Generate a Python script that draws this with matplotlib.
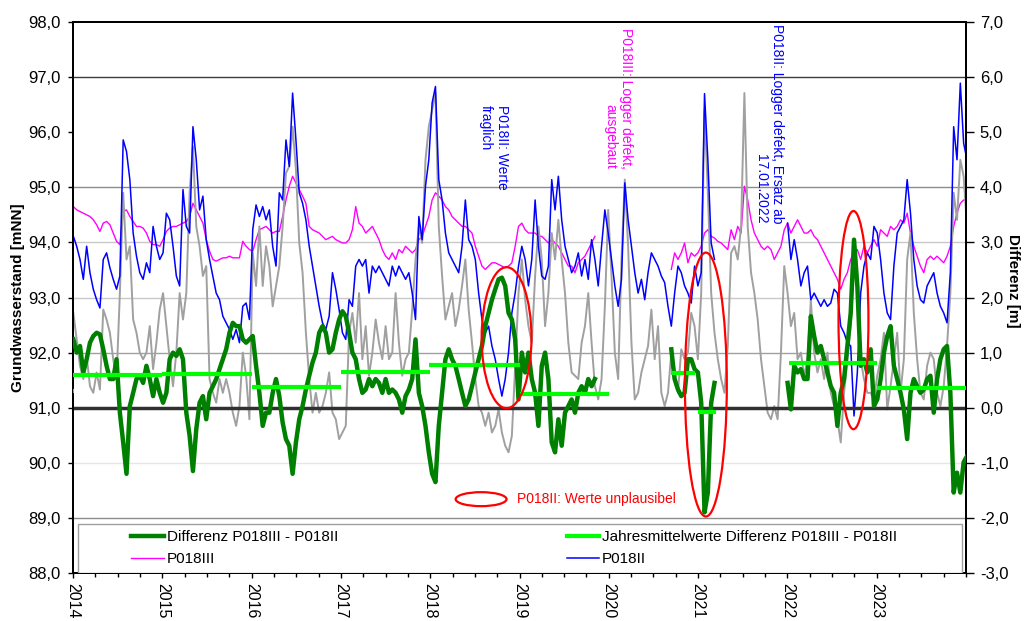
import matplotlib
matplotlib.use("Agg")
import matplotlib.pyplot as plt
from matplotlib.patches import Ellipse, Rectangle
from matplotlib.lines import Line2D
from matplotlib.ticker import FuncFormatter, MultipleLocator
import numpy as np

nan = np.nan

# one reading about every 13.6 days, from Jan 2014 to end of 2023 (decimal years)
t = 2014.004 + 0.0372 * np.arange(270)

# P018III [mNN]
p018iii = [
    94.65, 94.59, 94.56, 94.53, 94.50, 94.47, 94.41, 94.32, 94.20, 94.35,
    94.38, 94.32, 94.17, 94.02, 93.96, 94.56, 94.59, 94.47, 94.38, 94.29,
    94.29, 94.26, 94.17, 94.02, 93.96, 93.96, 93.93, 94.05, 94.20, 94.26,
    94.29, 94.29, 94.32, 94.35, 94.38, 94.47, 94.71, 94.59, 94.47, 94.35,
    94.05, 93.84, 93.69, 93.66, 93.69, 93.72, 93.72, 93.75, 93.72, 93.72,
    93.72, 94.02, 93.93, 93.87, 93.84, 94.05, 94.23, 94.26, 94.29, 94.23,
    94.17, 94.20, 94.20, 94.47, 94.77, 95.02, 95.20, 95.08, 94.96, 94.84,
    94.71, 94.29, 94.23, 94.20, 94.17, 94.11, 94.05, 94.08, 94.11, 94.05,
    94.02, 93.99, 93.99, 94.05, 94.23, 94.65, 94.35, 94.29, 94.17, 94.23,
    94.29, 94.17, 94.05, 93.87, 93.75, 93.69, 93.81, 93.69, 93.87, 93.81,
    93.93, 93.87, 93.81, 93.87, 94.05, 94.11, 94.29, 94.47, 94.77, 94.90,
    94.84, 94.77, 94.65, 94.59, 94.47, 94.41, 94.35, 94.29, 94.29, 94.23,
    94.17, 93.93, 93.75, 93.57, 93.51, 93.57, 93.63, 93.63, 93.60, 93.57,
    93.54, 93.57, 93.63, 93.93, 94.29, 94.35, 94.23, 94.17, 94.17, 94.17,
    94.11, 94.11, 94.05, 93.99, 94.05, 93.99, 93.93, 93.81, 93.69, 93.57,
    93.57, 93.45, 93.63, 93.69, 93.75, 93.87, 93.99, 94.11, nan, nan,
    nan, nan, nan, nan, nan, nan, nan, nan, nan, nan,
    nan, nan, nan, nan, nan, nan, nan, nan, nan, nan,
    93.51, 93.81, 93.69, 93.81, 93.99, 93.63, 93.81, 93.75, 93.81, 93.93,
    94.17, 94.23, 94.11, 94.08, 94.02, 93.99, 93.93, 93.87, 94.23, 94.05,
    94.29, 94.17, 95.02, 94.77, 94.41, 94.17, 94.05, 93.93, 93.87, 93.93,
    93.87, 93.69, 93.81, 93.93, 94.23, 94.35, 94.17, 94.29, 94.41, 94.29,
    94.17, 94.17, 94.23, 94.11, 94.05, 93.93, 93.81, 93.69, 93.57, 93.45,
    93.33, 93.15, 93.33, 93.45, 93.69, 93.81, 93.87, 93.69, 93.93, 93.81,
    93.93, 94.05, 93.93, 94.23, 94.17, 94.11, 94.29, 94.23, 94.29, 94.41,
    94.35, 94.53, 94.17, 93.93, 93.75, 93.57, 93.45, 93.69, 93.75, 93.69,
    93.75, 93.69, 93.63, 93.75, 93.93, 94.29, 94.53, 94.71, 94.77, 94.77,
]

# P018II [mNN]
p018ii = [
    94.11, 93.93, 93.69, 93.33, 93.93, 93.45, 93.15, 92.96, 92.81, 93.69,
    93.81, 93.54, 93.33, 93.15, 93.39, 95.86, 95.65, 95.14, 94.17, 93.75,
    93.45, 93.33, 93.63, 93.45, 94.29, 93.93, 93.69, 93.81, 94.53, 94.41,
    93.93, 93.39, 93.21, 94.96, 94.29, 94.17, 96.10, 95.50, 94.59, 94.84,
    94.05, 93.69, 93.39, 93.08, 92.96, 92.66, 92.54, 92.42, 92.24, 92.42,
    92.18, 92.84, 92.90, 92.60, 94.23, 94.68, 94.47, 94.65, 94.41, 94.59,
    93.93, 93.57, 94.90, 94.77, 95.86, 95.38, 96.71, 95.86, 94.90, 94.71,
    94.41, 93.93, 93.57, 93.21, 92.84, 92.54, 92.42, 92.66, 93.45, 93.15,
    92.78, 92.36, 92.24, 92.96, 92.84, 93.57, 93.69, 93.57, 93.69, 93.08,
    93.57, 93.45, 93.57, 93.45, 93.33, 93.21, 93.57, 93.39, 93.57, 93.45,
    93.33, 93.45, 93.08, 92.60, 94.47, 94.05, 95.02, 95.50, 96.53, 96.83,
    95.14, 94.77, 94.17, 93.81, 93.69, 93.57, 93.45, 93.93, 94.77, 94.05,
    93.93, 93.69, 93.08, 92.60, 92.36, 92.48, 92.12, 91.88, 91.52, 91.21,
    91.52, 92.00, 92.72, 93.08, 93.57, 93.93, 93.69, 93.21, 93.69, 94.77,
    93.93, 93.39, 93.33, 93.57, 95.14, 94.59, 95.20, 94.41, 93.93, 93.69,
    93.45, 93.57, 93.81, 93.39, 93.69, 93.33, 94.05, 93.69, 93.21, 93.93,
    94.59, 94.17, 93.69, 93.21, 92.84, 93.33, 95.08, 94.41, 93.93, 93.45,
    93.08, 93.33, 92.96, 93.45, 93.81, 93.69, 93.57, 93.39, 93.27, 92.84,
    92.48, 93.08, 93.57, 93.45, 93.21, 93.08, 92.90, 93.57, 93.21, 93.45,
    96.70, 95.50, 93.99, 93.69, nan, nan, nan, nan, nan, nan,
    nan, nan, nan, nan, nan, nan, nan, nan, nan, nan,
    nan, nan, nan, nan, nan, 94.35, 93.69, 94.05, 93.69, 93.21,
    93.45, 93.57, 92.96, 93.08, 92.96, 92.84, 92.96, 92.84, 92.90, 93.15,
    93.08, 92.48, 92.36, 92.18, 92.12, 90.85, 91.64, 93.08, 93.57, 93.81,
    93.69, 94.29, 94.17, 93.69, 93.08, 92.72, 92.60, 93.57, 94.17, 94.29,
    94.41, 95.14, 94.53, 93.69, 93.21, 92.96, 92.90, 93.21, 93.33, 93.45,
    93.08, 92.84, 92.72, 92.54, 93.45, 96.10, 95.50, 96.89, 95.80, 95.50,
]

# grey series (no legend entry) [mNN]
grau = [
    92.72, 92.24, 91.76, 91.52, 91.94, 91.39, 91.27, 91.64, 91.33, 92.78,
    92.60, 92.36, 91.88, 91.52, 93.08, 94.90, 93.69, 93.93, 92.60, 92.36,
    92.00, 91.88, 92.00, 92.48, 91.70, 92.18, 92.78, 93.08, 92.48, 91.88,
    91.39, 92.00, 93.08, 92.60, 93.08, 94.90, 95.74, 94.29, 93.93, 93.39,
    93.57, 91.52, 91.27, 91.09, 91.52, 91.27, 91.52, 91.27, 90.91, 90.67,
    91.03, 92.00, 91.58, 90.79, 93.81, 93.21, 94.29, 93.21, 93.93, 93.57,
    92.84, 93.21, 93.57, 94.29, 95.26, 95.38, 96.10, 95.32, 93.99, 93.45,
    92.36, 91.52, 90.91, 91.27, 90.91, 91.03, 91.27, 91.64, 90.91, 90.79,
    90.43, 90.55, 90.67, 92.36, 92.72, 92.18, 93.08, 91.88, 92.48, 91.58,
    92.00, 92.60, 92.18, 91.88, 92.48, 91.88, 92.00, 93.08, 92.18, 91.58,
    91.88, 92.00, 92.78, 93.69, 94.29, 93.99, 95.50, 96.10, 96.41, 96.71,
    94.29, 93.39, 92.60, 92.84, 93.08, 92.48, 92.78, 93.21, 93.69, 92.78,
    92.18, 91.52, 91.03, 90.91, 90.67, 90.91, 90.55, 90.67, 90.97, 90.55,
    90.31, 90.19, 90.49, 91.76, 93.08, 93.69, 92.96, 92.48, 92.18, 93.39,
    94.29, 93.69, 92.48, 93.08, 94.17, 93.69, 94.41, 93.69, 93.08, 92.18,
    91.64, 91.58, 91.52, 92.18, 92.48, 93.08, 92.18, 91.39, 91.15, 91.52,
    92.84, 94.59, 93.39, 92.00, 91.52, 93.69, 95.14, 93.93, 92.18, 91.15,
    91.27, 91.64, 91.88, 92.12, 92.78, 91.88, 92.48, 91.27, 91.03, 91.27,
    92.00, 91.52, 91.27, 92.06, 91.88, 92.00, 92.72, 92.48, 91.88, 93.08,
    96.41, 94.90, 93.08, 92.36, 91.88, 91.52, 91.27, 92.12, 93.81, 93.93,
    93.69, 94.29, 96.71, 94.29, 93.45, 93.08, 92.60, 91.88, 91.39, 90.91,
    90.79, 91.03, 90.79, 92.00, 93.57, 93.08, 92.48, 92.72, 91.88, 92.00,
    91.58, 91.88, 92.96, 92.00, 91.64, 91.88, 91.52, 92.00, 91.27, 91.03,
    90.79, 90.37, 91.27, 91.88, 92.48, 93.81, 93.08, 91.88, 91.52, 91.27,
    91.27, 91.15, 91.58, 91.88, 92.36, 90.97, 91.39, 91.88, 92.36, 91.27,
    91.88, 93.69, 94.17, 92.72, 91.88, 91.27, 91.15, 91.76, 92.00, 91.88,
    91.27, 91.03, 91.39, 92.12, 93.08, 94.90, 94.41, 95.50, 95.20, 94.29,
]

# Differenz P018III - P018II [m]
differenz = [
    1.24, 1.00, 1.12, 0.64, 0.88, 1.18, 1.30, 1.36, 1.33, 1.06,
    0.76, 0.52, 0.52, 0.88, -0.09, -0.63, -1.20, 0.03, 0.27, 0.52,
    0.58, 0.45, 0.76, 0.52, 0.21, 0.52, 0.27, 0.09, 0.27, 0.88,
    1.00, 0.94, 1.06, 0.88, -0.09, -0.51, -1.15, -0.39, 0.09, 0.21,
    -0.21, 0.27, 0.39, 0.52, 0.70, 0.88, 1.06, 1.36, 1.54, 1.48,
    1.48, 1.24, 1.18, 1.24, 1.30, 0.76, 0.27, -0.33, -0.09, -0.09,
    0.27, 0.52, 0.21, -0.27, -0.57, -0.69, -1.20, -0.63, -0.21, 0.03,
    0.33, 0.58, 0.82, 1.00, 1.36, 1.48, 1.36, 1.00, 1.06, 1.36,
    1.60, 1.75, 1.66, 1.36, 1.00, 0.88, 0.52, 0.27, 0.33, 0.52,
    0.39, 0.52, 0.45, 0.27, 0.52, 0.27, 0.33, 0.27, 0.15, -0.09,
    0.21, 0.33, 0.52, 1.24, 0.27, 0.03, -0.33, -0.81, -1.20, -1.35,
    -0.33, 0.27, 0.88, 1.06, 0.88, 0.76, 0.52, 0.27, 0.03, 0.15,
    0.39, 0.64, 0.88, 1.12, 1.48, 1.72, 1.96, 2.15, 2.33, 2.36,
    2.21, 1.72, 1.60, 1.24, 0.15, 1.00, 0.64, 1.00, 0.52, 0.27,
    -0.33, 0.76, 1.00, 0.52, -0.63, -0.81, -0.21, -0.69, -0.09, 0.03,
    0.15, -0.09, 0.27, 0.39, 0.27, 0.52, 0.39, 0.52, nan, nan,
    nan, nan, nan, nan, nan, nan, nan, nan, nan, nan,
    nan, nan, nan, nan, nan, nan, nan, nan, nan, nan,
    1.06, 0.52, 0.33, 0.21, 0.27, 0.88, 0.88, 0.70, 0.64, 0.09,
    -1.90, -1.54, 0.09, 0.45, nan, nan, nan, nan, nan, nan,
    nan, nan, nan, nan, nan, nan, nan, nan, nan, nan,
    nan, nan, nan, nan, nan, 0.45, -0.03, 0.76, 0.64, 0.70,
    0.52, 0.52, 1.66, 1.30, 1.00, 1.12, 0.88, 0.64, 0.39, 0.27,
    -0.33, 0.27, 0.52, 1.12, 1.72, 3.05, 2.21, 0.76, 0.88, 0.64,
    1.06, 0.03, 0.15, 0.52, 1.00, 1.30, 1.48, 0.76, 0.52, 0.27,
    -0.03, -0.57, 0.27, 0.52, 0.39, 0.27, 0.33, 0.52, 0.58, -0.09,
    0.52, 0.88, 1.06, 1.12, 0.27, -1.54, -1.18, -1.54, -0.99, -0.88,
]

# Jahresmittelwerte Differenz [m]
jm_von = [2013.9, 2014.0, 2015.0, 2016.0, 2017.0, 2017.99, 2019.0, 2020.7, 2021.0, 2022.02, 2023.0]
jm_bis = [2014.01, 2015.0, 2016.0, 2017.0, 2018.0, 2019.0, 2020.0, 2020.96, 2021.2, 2023.0, 2024.0]
jm_wert = [0.30, 0.60, 0.62, 0.38, 0.65, 0.77, 0.24, 0.63, -0.07, 0.82, 0.35]

years = list(range(2014, 2024))

plt.rcParams['font.family'] = ['Liberation Sans', 'DejaVu Sans']
plt.rcParams['font.size'] = 11


def comma(v, pos):
    return f"{v:.1f}".replace('.', ',')


fig = plt.figure(figsize=(10.31, 6.21), dpi=100)
ax = fig.add_axes([73 / 1031, 48 / 621, 893 / 1031, 551 / 621])

grid = [(97, '#3c3c3c'), (95, '#8c8c8c'), (94, '#c8c8c8'), (93, '#c8c8c8'),
        (92, '#a0a0a0'), (90, '#e6e6e6'), (89, '#8c8c8c')]
for lvl, col in grid:
    ax.axhline(lvl, color=col, lw=1, zorder=0)

ax.plot(t, p018iii, color='#ff00ff', lw=1.0, zorder=2)
ax.plot(t, grau, color='#a0a0a0', lw=1.4, zorder=3)
ax.plot(t, p018ii, color='#0000ff', lw=1.1, zorder=4)

ax.set_xlim(2014, 2024)
ax.set_ylim(88, 98)
ax.set_yticks(range(88, 99))
ax.yaxis.set_major_formatter(FuncFormatter(comma))
ax.set_xticks(years)
ax.set_xticklabels([str(y) for y in years], rotation=270)
ax.xaxis.set_minor_locator(MultipleLocator(0.25))
ax.tick_params(axis='y', which='major', direction='out', length=3.6, width=1, pad=5.5,
               labelsize=12)
ax.tick_params(axis='x', which='major', direction='out', length=3.5, width=1, pad=4,
               labelsize=11.5)
ax.tick_params(axis='x', which='minor', direction='out', length=3, width=1)
ax.set_ylabel('Grundwasserstand [mNN]', fontweight='bold', va='center')
ax.yaxis.set_label_coords(-0.0616, 0.5)

ax2 = ax.twinx()
ax2.set_ylim(-3, 7)
ax2.set_yticks(range(-3, 8))
ax2.yaxis.set_major_formatter(FuncFormatter(comma))
ax2.tick_params(axis='y', direction='out', length=5.5, width=1, pad=4.5, labelsize=12)
ax2.set_ylabel('Differenz [m]', fontweight='bold', rotation=270, va='center')
ax2.yaxis.set_label_coords(1.0526, 0.53)

ax2.axhline(0, color='#303030', lw=2.5, zorder=1)
ax2.plot(t, differenz, color='#008000', lw=3.2, zorder=3)
ax2.hlines(jm_wert, jm_von, jm_bis, color='#00ff00', lw=3, zorder=4)

for a in (ax, ax2):
    for s in a.spines.values():
        s.set_color('black')
        s.set_linewidth(1.4)

# red ellipses
for (cx, cy, w, h) in [(2018.855, 1.27, 0.558, 2.56), (2021.087, 0.42, 0.469, 4.79),
                       (2022.74, 1.59, 0.335, 3.96)]:
    ax2.add_patch(Ellipse((cx, cy), w, h, fill=False, edgecolor='red', lw=1.6, zorder=6))
ax2.add_patch(Ellipse((2018.57, -1.66), 0.57, 0.254, fill=False, edgecolor='red', lw=1.6, zorder=6))
ax2.text(2018.967, -1.66, 'P018II: Werte unplausibel', color='red', fontsize=10,
         ha='left', va='center', zorder=6)

ax2.text(2018.71, 5.5, 'P018II: Werte\nfraglich', color='#0000ff', fontsize=10,
         rotation=270, ha='center', va='top', multialignment='left', zorder=6)
ax2.text(2020.105, 6.89, 'P018III: Logger defekt,\nausgebaut', color='#ff00ff', fontsize=10,
         rotation=270, ha='center', va='top', multialignment='right', zorder=6)
ax2.text(2021.79, 6.96, 'P018II: Logger defekt, Ersatz ab\n17.01.2022', color='#0000ff',
         fontsize=10, rotation=270, ha='center', va='top', multialignment='right', zorder=6)

# legend box at the bottom
ax2.add_patch(Rectangle((0.0056, 0.0), 0.99, 0.0889, transform=ax2.transAxes,
                        facecolor='white', edgecolor='#a0a0a0', lw=1, zorder=7))
handles = [Line2D([], [], color='#008000', lw=3.2),
           Line2D([], [], color='#ff00ff', lw=1.0),
           Line2D([], [], color='#00ff00', lw=3),
           Line2D([], [], color='#0000ff', lw=1.1)]
labels = ['Differenz P018III - P018II', 'P018III',
          'Jahresmittelwerte Differenz P018III - P018II', 'P018II']
leg = ax2.legend(handles, labels, ncol=2, loc='upper left', bbox_to_anchor=(0.062, 0.083),
                 frameon=False, fontsize=11, handlelength=2.1, handletextpad=0.2,
                 columnspacing=15.0, borderpad=0.2, borderaxespad=0, labelspacing=0.5)
leg.set_zorder(8)

fig.savefig('out.png', dpi=100)
